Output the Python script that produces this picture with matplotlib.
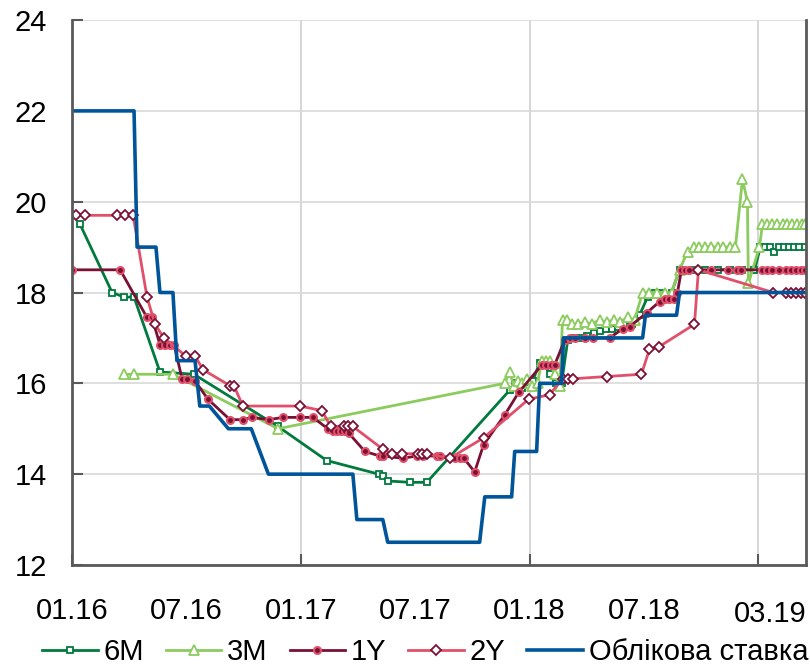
import matplotlib.pyplot as plt
import matplotlib.transforms as mtransforms

plt.rcParams['font.family'] = ['Liberation Sans', 'DejaVu Sans']

# x values: months since 01.2016
key_x = [0, 3.25, 3.41, 4.40, 4.61, 5.29, 5.50, 6.45, 6.70, 7.20, 8.20, 9.40, 10.30, 14.73, 14.94,
         16.30, 16.56, 21.38, 21.65, 23.06, 23.22, 24.37, 24.53, 25.68, 25.78, 29.93, 30.08,
         31.71, 31.87, 38.5]
key_y = [22, 22, 19, 19, 18, 18, 16.5, 16.5, 15.5, 15.5, 15.0, 15.0, 14.0, 14.0, 13.0,
         13.0, 12.5, 12.5, 13.5, 13.5, 14.5, 14.5, 16.0, 16.0, 17.0, 17.0, 17.5,
         17.5, 18.0, 18.0]

m6_x = [0.42, 2.10, 2.73, 3.25, 4.61, 6.39, 10.80, 13.36, 16.09, 16.30, 16.56, 17.72, 18.61,
        22.96, 23.22, 23.58, 24.16, 24.53, 24.79, 25.05, 25.37, 25.68, 26.00, 26.36, 26.62,
        26.99, 27.36, 27.67, 27.99, 28.30, 28.62, 28.98, 29.35, 29.77, 30.19, 30.56, 30.92,
        31.45, 31.87, 32.50, 33.18, 33.86, 34.49, 35.12, 35.80, 36.11, 36.37, 36.64, 36.85,
        37.10, 37.37, 37.63, 37.89, 38.16, 38.47]
m6_y = [19.5, 18.0, 17.9, 17.9, 16.25, 16.2, 15.05, 14.3, 14.0, 13.95, 13.85, 13.82, 13.82,
        15.85, 16.0, 15.9, 16.05, 16.45, 16.45, 16.2, 16.0, 16.0, 16.95, 17.0, 17.0,
        17.05, 17.1, 17.15, 17.2, 17.2, 17.25, 17.3, 17.3, 17.5, 17.9, 18.0, 18.0,
        18.0, 18.5, 18.5, 18.5, 18.5, 18.5, 18.5, 18.5, 19.0, 19.0, 19.0, 18.9,
        19.0, 19.0, 19.0, 19.0, 19.0, 19.0]

m3_x = [2.73, 3.25, 5.29, 10.80, 22.69, 22.96, 23.17, 23.38, 23.58, 23.85, 24.11, 24.42, 24.63,
        24.84, 25.05, 25.31, 25.58, 25.73, 25.94, 26.21, 26.52, 26.89, 27.25, 27.67, 28.04,
        28.41, 28.72, 29.14, 29.51, 29.93, 30.29, 30.66, 31.08, 31.45, 31.87, 32.29, 32.65,
        32.91, 33.23, 33.54, 33.86, 34.17, 34.49, 34.80, 35.17, 35.43, 35.48, 36.06, 36.22,
        36.48, 36.74, 37.00, 37.27, 37.53, 37.79, 38.05, 38.31, 38.47]
m3_y = [16.2, 16.2, 16.2, 15.0, 16.0, 16.25, 15.95, 16.05, 16.0, 16.1, 15.95, 16.0, 16.5,
        16.5, 16.5, 16.2, 15.95, 17.4, 17.4, 17.3, 17.3, 17.35, 17.3, 17.4, 17.35,
        17.4, 17.35, 17.45, 17.4, 18.0, 18.0, 18.0, 18.0, 18.0, 18.5, 18.9, 19.0,
        19.0, 19.0, 19.0, 19.0, 19.0, 19.0, 19.0, 20.5, 20.0, 18.2, 19.0, 19.5,
        19.5, 19.5, 19.5, 19.5, 19.5, 19.5, 19.5, 19.5, 19.5]

y1_x = [0, 2.52, 3.93, 4.19, 4.61, 4.87, 5.14, 5.35, 5.77, 6.03, 6.45, 7.13, 8.28, 8.96, 9.43,
        10.32, 11.06, 11.95, 12.63, 13.42, 13.68, 13.89, 14.10, 14.31, 14.52, 15.36, 16.14,
        16.30, 17.35, 18.08, 18.40, 19.13, 19.29, 20.07, 20.34, 20.55, 21.12, 21.59, 22.69,
        23.43, 24.63, 24.84, 25.10, 25.31, 25.84, 26.10, 26.36, 26.89, 27.31, 28.20, 28.88,
        29.25, 30.14, 30.82, 31.08, 31.34, 31.60, 31.76, 31.97, 32.18, 32.39, 32.80, 33.50,
        34.40, 34.90, 35.10, 36.22, 36.48, 36.74, 37.10, 37.47, 37.74, 38.00, 38.26, 38.47]
y1_y = [18.5, 18.5, 17.45, 17.45, 16.85, 16.85, 16.85, 16.85, 16.1, 16.1, 16.05, 15.65, 15.2,
        15.2, 15.25, 15.2, 15.25, 15.25, 15.25, 15.0, 14.95, 14.95, 14.95, 14.95, 14.9,
        14.5, 14.4, 14.4, 14.35, 14.4, 14.4, 14.4, 14.4, 14.35, 14.35, 14.35, 14.05, 14.65,
        15.3, 15.8, 16.4, 16.4, 16.4, 16.4, 16.95, 17.0, 17.0, 17.0, 17.0, 17.0, 17.2,
        17.25, 17.55, 17.8, 17.85, 17.85, 17.85, 18.0, 18.5, 18.5, 18.5, 18.5, 18.5,
        18.5, 18.5, 18.5, 18.5, 18.5, 18.5, 18.5, 18.5, 18.5, 18.5, 18.5, 18.5]

y2_x = [0.21, 0.68, 2.36, 2.78, 3.20, 3.93, 4.35, 4.82, 5.97, 6.45, 6.87, 8.28, 8.49, 8.96,
        11.95, 13.10, 13.57, 14.26, 14.47, 14.73, 16.30, 16.77, 17.30, 18.13, 18.34, 18.61,
        19.81, 21.59, 23.95, 25.05, 25.73, 26.00, 26.26, 28.04, 29.87, 30.29, 30.77, 32.65,
        32.86, 36.79, 37.47, 37.74, 38.00, 38.26, 38.47]
y2_y = [19.7, 19.7, 19.7, 19.7, 19.7, 17.9, 17.3, 17.0, 16.6, 16.6, 16.3, 15.95, 15.95, 15.5,
        15.5, 15.4, 15.05, 15.05, 15.05, 15.05, 14.55, 14.45, 14.45, 14.45, 14.45, 14.45,
        14.35, 14.8, 15.65, 15.75, 16.1, 16.1, 16.1, 16.15, 16.2, 16.75, 16.8, 17.3,
        18.5, 18.0, 18.0, 18.0, 18.0, 18.0, 18.0]

tick_pos = [0, 6, 12, 18, 24, 30]
tick_labels = ['01.16', '07.16', '01.17', '07.17', '01.18', '07.18']

green = '#007A3D'
light_green = '#8CCB5E'
maroon = '#7A1034'
pink = '#E0506A'
blue = '#00559A'

fig = plt.figure(figsize=(8.1, 6.69), dpi=100)
ax = fig.add_axes([0.089, 0.1555, 0.906, 0.8145])

ax.plot(m6_x, m6_y, color=green, lw=2, marker='s', ms=5, mfc='white', mec=green, mew=1.3, label='6M')
ax.plot(m3_x, m3_y, color=light_green, lw=2, marker='^', ms=7, mfc='white', mec=light_green, mew=1.3, label='3M')
ax.plot(y1_x, y1_y, color=maroon, lw=2, marker='o', ms=5, mfc=maroon, mec=pink, mew=1.5, label='1Y')
ax.plot(y2_x, y2_y, color=pink, lw=2, marker='D', ms=5, mfc='white', mec=maroon, mew=1.3, label='2Y')
ax.plot(key_x, key_y, color=blue, lw=2.6, label='Облікова ставка')

ax.set_xlim(0, 38.5)
ax.set_ylim(12, 24)
ax.set_yticks([12, 14, 16, 18, 20, 22, 24])
ax.grid(axis='y', color='#D9D9D9', lw=1.2)
for gx in [12, 24, 36]:
    ax.axvline(gx, color='#D0D0D0', lw=1.2, zorder=0)
ax.set_axisbelow(True)

# labels every 6 months, tick marks only once a year
ax.xaxis.remove_overlapping_locs = False
ax.set_xticks(tick_pos)
ax.set_xticklabels(tick_labels)
ax.tick_params(axis='x', which='major', length=0, pad=23, labelsize=21)
ax.set_xticks([0, 12, 24, 36], minor=True)
ax.tick_params(axis='x', which='minor', direction='in', length=8, width=1.5, color='#595959')
ax.tick_params(axis='y', direction='in', length=8, width=1.5, color='#595959', pad=18, labelsize=21)

trans = mtransforms.blended_transform_factory(ax.transData, ax.transAxes)
ax.text(36.6, -0.09, '03.19', transform=trans, ha='center', va='center', fontsize=21)

ax.spines['top'].set_visible(False)
for s in ['left', 'bottom', 'right']:
    ax.spines[s].set_color('#595959')
    ax.spines[s].set_linewidth(2)

fig.legend(loc='lower center', bbox_to_anchor=(0.525, -0.035), ncol=5, frameon=False, fontsize=21,
           handlelength=1.9, handletextpad=0.2, columnspacing=0.75)

fig.savefig('out.png', dpi=100)
